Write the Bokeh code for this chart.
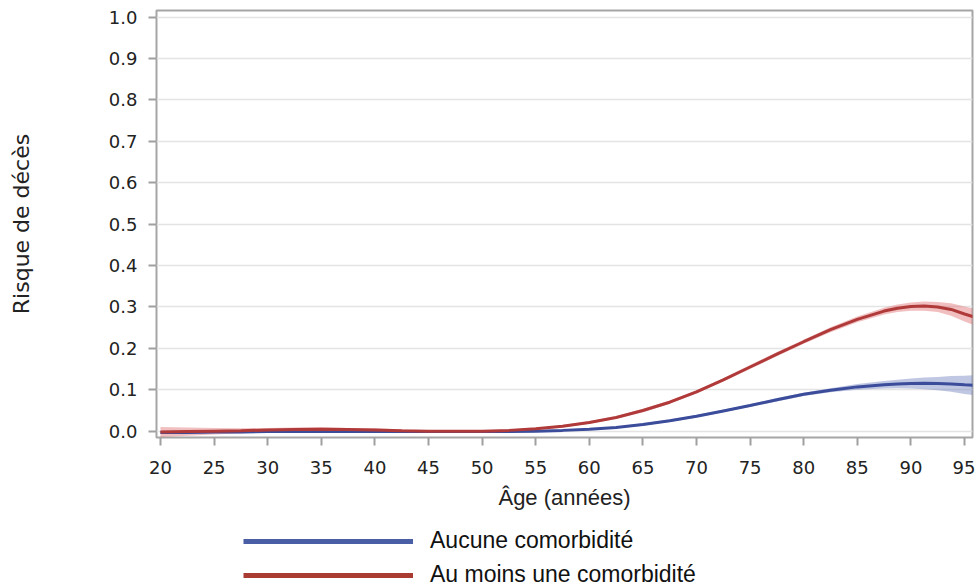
from bokeh.plotting import figure
from bokeh.layouts import column
from bokeh.models import (ColumnDataSource, Range1d, FixedTicker, Legend, LegendItem,
                          CustomJSTickFormatter)
from bokeh.embed import file_html
from bokeh.resources import INLINE

# ---- data ----
ages = [20, 22.5, 25, 27.5, 30, 32.5, 35, 37.5, 40, 42.5, 45, 47.5, 50, 52.5, 55,
        57.5, 60, 62.5, 65, 67.5, 70, 72.5, 75, 77.5, 80, 82.5, 85, 87.5, 88.75,
        90, 91.25, 92.5, 93.75, 95, 96]

risk_none = [-0.003, -0.003, -0.002, -0.002, -0.001, -0.001, 0.0, -0.001, -0.001,
             -0.001, -0.001, -0.001, -0.001, -0.001, 0.0, 0.002, 0.005, 0.009,
             0.016, 0.025, 0.036, 0.049, 0.062, 0.076, 0.089, 0.099, 0.107, 0.112,
             0.114, 0.115, 0.1155, 0.115, 0.114, 0.112, 0.111]
half_none = [0.004, 0.004, 0.003, 0.003, 0.003, 0.003, 0.003, 0.003, 0.003, 0.003,
             0.002, 0.002, 0.002, 0.002, 0.002, 0.002, 0.002, 0.002, 0.003, 0.003,
             0.003, 0.003, 0.003, 0.004, 0.004, 0.005, 0.007, 0.009, 0.010, 0.012,
             0.014, 0.016, 0.019, 0.022, 0.024]

risk_comorb = [-0.002, -0.001, 0.0, 0.001, 0.003, 0.004, 0.005, 0.004, 0.003, 0.001,
               0.0, 0.0, 0.0, 0.002, 0.006, 0.012, 0.021, 0.033, 0.050, 0.070,
               0.095, 0.124, 0.155, 0.186, 0.216, 0.245, 0.270, 0.290, 0.297,
               0.301, 0.302, 0.300, 0.294, 0.283, 0.275]
half_comorb = [0.012, 0.010, 0.008, 0.006, 0.005, 0.005, 0.005, 0.004, 0.004, 0.003,
               0.002, 0.002, 0.002, 0.002, 0.002, 0.003, 0.003, 0.003, 0.004, 0.004,
               0.004, 0.004, 0.005, 0.005, 0.005, 0.006, 0.007, 0.008, 0.009, 0.010,
               0.011, 0.012, 0.015, 0.018, 0.020]

x_ticks = [20, 25, 30, 35, 40, 45, 50, 55, 60, 65, 70, 75, 80, 85, 90, 95]
y_ticks = [0.0, 0.1, 0.2, 0.3, 0.4, 0.5, 0.6, 0.7, 0.8, 0.9, 1.0]

label_none = "Aucune comorbidité"
label_comorb = "Au moins une comorbidité"
x_title = "Âge (années)"
y_title = "Risque de décès"

src = ColumnDataSource(dict(
    x=ages,
    none=risk_none,
    none_lo=[c - h for c, h in zip(risk_none, half_none)],
    none_hi=[c + h for c, h in zip(risk_none, half_none)],
    com=risk_comorb,
    com_lo=[c - h for c, h in zip(risk_comorb, half_comorb)],
    com_hi=[c + h for c, h in zip(risk_comorb, half_comorb)],
))

p = figure(width=975, height=520, output_backend="svg", toolbar_location=None,
           x_range=Range1d(19.627, 95.746), y_range=Range1d(-0.0152, 1.0157),
           min_border_left=156, min_border_right=3, min_border_top=10,
           min_border_bottom=83)

# confidence bands
p.varea(x="x", y1="none_lo", y2="none_hi", source=src,
        fill_color="#7382c2", fill_alpha=0.45)
p.varea(x="x", y1="com_lo", y2="com_hi", source=src,
        fill_color="#e07070", fill_alpha=0.45)
# curves
p.line(x="x", y="none", source=src, line_color="#3b4c9b", line_width=3)
p.line(x="x", y="com", source=src, line_color="#b03a3a", line_width=3)

# frame / grid
p.outline_line_color = "#a6a6a6"
p.outline_line_width = 2
p.xgrid.grid_line_color = None
p.ygrid.grid_line_color = "#e4e4e4"
p.ygrid.grid_line_width = 1.5

for ax in (p.xaxis[0], p.yaxis[0]):
    ax.axis_line_color = None
    ax.major_tick_line_color = "#a0a0a0"
    ax.major_tick_line_width = 2
    ax.major_tick_out = 8
    ax.major_tick_in = 0
    ax.minor_tick_line_color = None
    ax.major_label_text_font = "DejaVu Sans"
    ax.major_label_text_font_size = "18px"
    ax.major_label_text_color = "#222222"
    ax.axis_label_text_font_style = "normal"
    ax.axis_label_text_color = "#222222"
    ax.axis_label_text_font_size = "22px"

p.xaxis.axis_label_text_font = "Liberation Sans"
p.yaxis.axis_label_text_font = "DejaVu Sans"
p.xaxis.ticker = FixedTicker(ticks=x_ticks)
p.yaxis.ticker = FixedTicker(ticks=y_ticks)
p.yaxis.formatter = CustomJSTickFormatter(code="return tick.toFixed(1);")
p.xaxis.axis_label = x_title
p.yaxis.axis_label = y_title
p.xaxis.major_label_standoff = 15
p.xaxis.axis_label_standoff = 8
p.yaxis.major_label_standoff = 11
p.yaxis.axis_label_standoff = 72

# legend strip below the chart (its series sit outside its view; only the
# legend entries are visible)
lg = figure(width=975, height=68, output_backend="svg", toolbar_location=None,
            x_range=Range1d(0, 1), y_range=Range1d(5, 6),
            min_border=0, min_border_left=0, min_border_right=0,
            min_border_top=0, min_border_bottom=0)
lg.axis.visible = False
lg.grid.visible = False
lg.outline_line_color = None
r_leg_none = lg.line(x="x", y="none", source=src, line_color="#4a5ea6", line_width=5)
r_leg_com = lg.line(x="x", y="com", source=src, line_color="#a93b32", line_width=5)
legend = Legend(items=[LegendItem(label=label_none, renderers=[r_leg_none]),
                       LegendItem(label=label_comorb, renderers=[r_leg_com])],
                location=(87, 0), orientation="vertical",
                glyph_width=170, glyph_height=26, label_height=26,
                label_standoff=17, spacing=7, padding=0, margin=0,
                border_line_color=None, background_fill_alpha=0,
                label_text_font="Liberation Sans", label_text_font_size="23px",
                label_text_color="#111111")
lg.add_layout(legend, "center")

page = column(p, lg, spacing=0)
open("out.html", "w").write(file_html(page, INLINE))
